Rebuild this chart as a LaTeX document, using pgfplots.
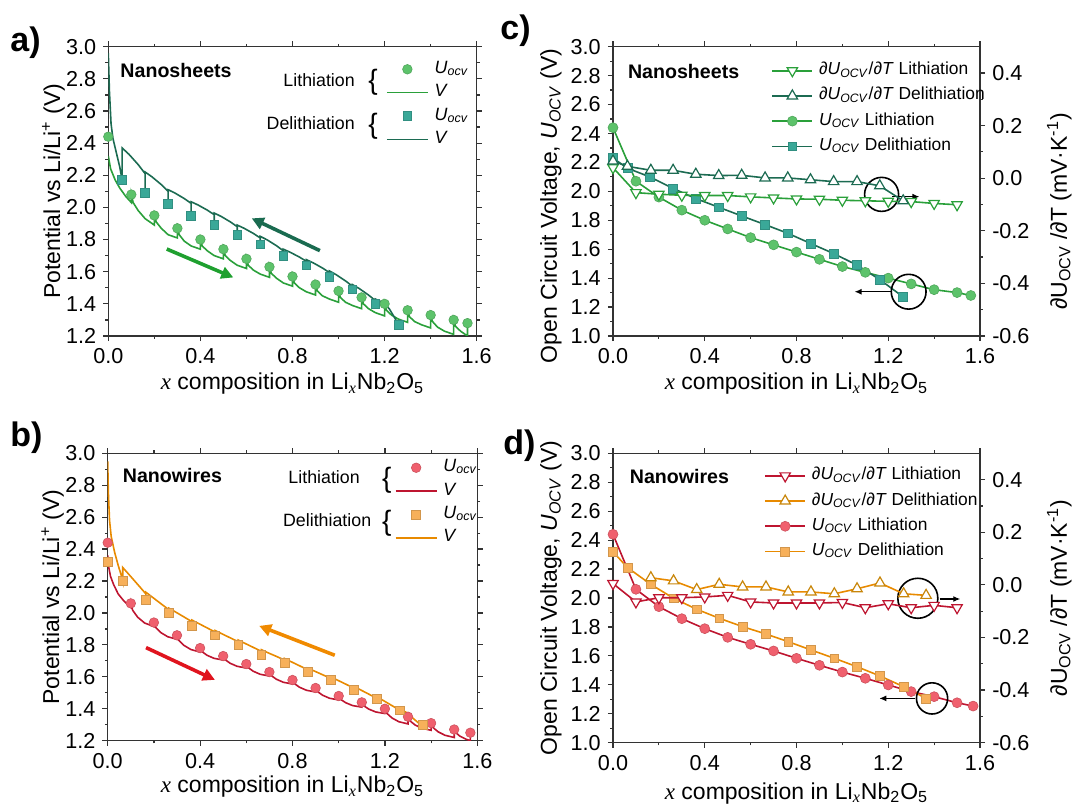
\documentclass[border=0pt]{standalone}
\usepackage{fontspec}
\setmainfont{Liberation Sans}
\newfontfamily\serif{Liberation Serif}
\usepackage{pgfplots}
\pgfplotsset{compat=1.18}
\usetikzlibrary{arrows.meta}

\definecolor{axcol}{HTML}{333333}
\definecolor{greenL}{HTML}{5DC36B}
\definecolor{greenLn}{HTML}{2AA03A}
\definecolor{tealSq}{HTML}{3AA898}
\definecolor{tealLn}{HTML}{1C6B52}
\definecolor{redC}{HTML}{F0606E}
\definecolor{redLn}{HTML}{BE1530}
\definecolor{orSq}{HTML}{F7B05A}
\definecolor{orLn}{HTML}{E88A00}
\definecolor{arrG}{HTML}{1FA02F}
\definecolor{arrT}{HTML}{1A6B50}
\definecolor{arrR}{HTML}{E0141E}
\definecolor{arrO}{HTML}{F08A00}
\definecolor{triD}{HTML}{C8860A}

\newcommand{\xlab}{{\serif\itshape x} composition in Li\textsubscript{{\serif\itshape x}}Nb\textsubscript{2}O\textsubscript{5}}
\newcommand{\Uocv}{\textit{U}\textsubscript{\textit{OCV}}}
\newcommand{\uocv}{\textit{U}\textsubscript{\textit{ocv}}}

\pgfplotsset{
  base/.style={
    scale only axis, anchor=south west, xmin=0, xmax=1.6,
    xtick={0,0.4,0.8,1.2,1.6}, minor x tick num=1,
    tick align=outside, major tick length=2.6pt, minor tick length=1.4pt,
    axis line style={axcol, line width=0.6pt},
    tick style={axcol, line width=0.6pt},
    tick label style={font=\fontsize{10.8}{12}\selectfont},
    /pgf/number format/assume math mode=true,
    xticklabel style={/pgf/number format/.cd, fixed, fixed zerofill, precision=1},
    yticklabel style={/pgf/number format/.cd, fixed, fixed zerofill, precision=1},
    label style={font=\fontsize{11.5}{13}\selectfont},
    xlabel={\xlab},
  },
  vpanel/.style={base, ymin=1.2, ymax=3.0,
    ytick={1.2,1.4,1.6,1.8,2.0,2.2,2.4,2.6,2.8,3.0}, minor y tick num=1,
    xtick pos=both, ytick pos=both,
    ylabel={Potential vs Li/Li\textsuperscript{+} (V)},
    ylabel style={at={(axis description cs:-0.149,0.5)}, anchor=center},
    legend style={draw=none, fill=none, inner sep=0pt, outer sep=0pt,
      font=\fontsize{8.9}{9}\selectfont, row sep=2.7pt, column sep=3pt,
      nodes={inner sep=0pt, text height=6.5pt, text depth=2.5pt}},
    legend cell align=left,
    legend image code/.code={\path[draw=none, fill=none] (0pt,-3pt) rectangle (20.5pt,3pt); \draw[##1] (0pt,0pt) -- (20.5pt,0pt);},
  },
  opanel/.style={base, ymin=1.0, ymax=3.0,
    ytick={1.0,1.2,1.4,1.6,1.8,2.0,2.2,2.4,2.6,2.8,3.0}, minor y tick num=1,
    xtick pos=both, ytick pos=left,
    ylabel={Open Circuit Voltage, \Uocv{} (V)},
  },
  rpanel/.style={scale only axis, anchor=south west, xmin=0, xmax=1.6,
    ymin=-0.6, ymax=0.5, axis x line=none, axis y line*=right,
    ytick={-0.6,-0.4,-0.2,0,0.2,0.4}, minor y tick num=1,
    tick align=outside, major tick length=2.6pt, minor tick length=1.4pt,
    axis line style={axcol, line width=0.6pt},
    tick style={axcol, line width=0.6pt},
    tick label style={font=\fontsize{10.8}{12}\selectfont},
    /pgf/number format/assume math mode=true,
    yticklabel style={/pgf/number format/.cd, fixed, fixed zerofill, precision=1},
    label style={font=\fontsize{11.5}{13}\selectfont},
    ylabel={∂U\textsubscript{OCV} /∂T (mV·K\textsuperscript{-1})},
    legend style={draw=none, fill=none, inner sep=0pt, outer sep=0pt,
      font=\fontsize{8.7}{9}\selectfont, row sep=3.6pt, column sep=3pt,
      nodes={inner sep=0pt, text height=6.5pt, text depth=2.5pt}},
    legend cell align=left,
    legend image code/.code={\draw[##1] (0pt,0pt) -- (20pt,0pt); \draw[##1] plot[only marks] coordinates {(10pt,0pt)};},
  },
  mkimg/.style={legend image code/.code={\path[draw=none, fill=none] (0pt,-3pt) rectangle (20.5pt,3pt); \draw[##1] plot[only marks] coordinates {(10.25pt,0pt)};}},
}
\tikzset{tag/.style={inner sep=0pt, font=\bfseries\fontsize{9.8}{10}\selectfont},
  side/.style={inner sep=0pt, font=\fontsize{8.9}{9}\selectfont},
  plab/.style={anchor=base west, inner sep=0pt, font=\bfseries\fontsize{17}{17}\selectfont}}

\begin{document}
\begin{tikzpicture}[x=1pt,y=1pt]

% ---------------- a) nanosheets, GITT
\begin{axis}[vpanel, at={(54.15pt,235pt)}, width=184.2pt, height=144.65pt,
  xlabel style={at={(axis description cs:0.5,-0.166)}, anchor=center},
  legend style={at={(rel axis cs:0.754,0.953)}, anchor=north west}]
\addplot[forget plot, only marks, mark=*, mark size=2.4pt, mark options={fill=greenL, draw=greenL!85!black, line width=0.3pt}]
  coordinates {(0,2.44)(0.1,2.08)(0.2,1.95)(0.3,1.87)(0.4,1.80)(0.5,1.74)(0.6,1.68)(0.7,1.63)(0.8,1.57)(0.9,1.52)(1.0,1.48)(1.1,1.44)(1.2,1.40)(1.3,1.36)(1.4,1.33)(1.5,1.30)(1.56,1.28)};
\addplot[forget plot, only marks, mark=square*, mark size=2.2pt, mark options={fill=tealSq, draw=tealSq!85!black, line width=0.3pt}]
  coordinates {(0.06,2.17)(0.16,2.09)(0.26,2.02)(0.36,1.95)(0.46,1.89)(0.56,1.83)(0.66,1.77)(0.76,1.70)(0.86,1.64)(0.96,1.57)(1.06,1.49)(1.16,1.40)(1.26,1.27)};
\addplot[forget plot, greenLn, line width=0.8pt, mark=none] coordinates {
  (0,2.32)(0.01,2.24)(0.03,2.17)(0.05,2.12)(0.075,2.07)(0.1,2.03)(0.1,2.08)
  (0.108,2.03)(0.13,1.98)(0.16,1.93)(0.2,1.89)(0.2,1.95)
  (0.208,1.91)(0.23,1.87)(0.26,1.83)(0.3,1.81)(0.3,1.87)
  (0.308,1.83)(0.33,1.79)(0.36,1.76)(0.4,1.74)(0.4,1.80)
  (0.408,1.76)(0.43,1.73)(0.46,1.70)(0.5,1.68)(0.5,1.74)
  (0.508,1.70)(0.53,1.67)(0.56,1.64)(0.6,1.62)(0.6,1.68)
  (0.608,1.64)(0.63,1.61)(0.66,1.585)(0.7,1.565)(0.7,1.63)
  (0.708,1.59)(0.73,1.56)(0.76,1.53)(0.8,1.51)(0.8,1.57)
  (0.808,1.53)(0.83,1.50)(0.86,1.475)(0.9,1.455)(0.9,1.52)
  (0.908,1.48)(0.93,1.45)(0.96,1.43)(1.0,1.41)(1.0,1.48)
  (1.008,1.44)(1.03,1.41)(1.06,1.39)(1.1,1.37)(1.1,1.44)
  (1.108,1.40)(1.13,1.37)(1.16,1.345)(1.2,1.325)(1.2,1.40)
  (1.208,1.36)(1.23,1.33)(1.26,1.305)(1.3,1.285)(1.3,1.36)
  (1.308,1.32)(1.33,1.29)(1.36,1.27)(1.4,1.25)(1.4,1.33)
  (1.408,1.29)(1.43,1.255)(1.46,1.23)(1.5,1.21)(1.5,1.30)
  (1.508,1.26)(1.53,1.23)(1.56,1.20)(1.56,1.28)};
\addplot[forget plot, tealLn, line width=0.8pt, mark=none] coordinates {
  (0,2.96)(0.005,2.72)(0.012,2.52)(0.02,2.43)(0.035,2.34)(0.05,2.25)(0.06,2.17)(0.06,2.37)
  (0.09,2.33)(0.13,2.266)(0.16,2.21)(0.16,2.09)(0.16,2.22)
  (0.19,2.19)(0.23,2.142)(0.26,2.10)(0.26,2.02)(0.26,2.11)
  (0.29,2.089)(0.33,2.055)(0.36,2.025)(0.36,1.95)(0.36,2.035)
  (0.39,2.015)(0.43,1.983)(0.46,1.955)(0.46,1.89)(0.46,1.965)
  (0.49,1.944)(0.53,1.91)(0.56,1.88)(0.56,1.83)(0.56,1.89)
  (0.59,1.87)(0.63,1.838)(0.66,1.81)(0.66,1.77)(0.66,1.82)
  (0.69,1.798)(0.73,1.762)(0.76,1.73)(0.76,1.70)(0.76,1.74)
  (0.79,1.721)(0.83,1.691)(0.86,1.665)(0.86,1.64)(0.86,1.675)
  (0.89,1.655)(0.93,1.623)(0.96,1.595)(0.96,1.57)(0.96,1.605)
  (0.99,1.581)(1.03,1.543)(1.06,1.51)(1.06,1.49)(1.06,1.52)
  (1.09,1.495)(1.13,1.455)(1.16,1.42)(1.16,1.40)(1.16,1.43)
  (1.19,1.41)(1.22,1.37)(1.245,1.31)(1.26,1.27)};
\addlegendimage{mkimg, mark=*, mark size=2.4pt, mark options={fill=greenL, draw=greenL!85!black, line width=0.3pt}}
\addlegendimage{greenLn, line width=0.8pt}
\addlegendimage{mkimg, mark=square*, mark size=2.2pt, mark options={fill=tealSq, draw=tealSq!85!black, line width=0.3pt}}
\addlegendimage{tealLn, line width=0.8pt}
\legend{\uocv, \textit{V}, \uocv, \textit{V}}
\draw[-{Triangle[length=6pt,width=6pt]}, line width=1.8pt, arrG] (axis cs:0.254,1.741) -- (axis cs:0.543,1.564);
\draw[-{Triangle[length=6pt,width=6pt]}, line width=1.8pt, arrT] (axis cs:0.919,1.731) -- (axis cs:0.623,1.932);
\node[tag, anchor=west] at (rel axis cs:0.032,0.916) {Nanosheets};
\node[side, anchor=east] at (rel axis cs:0.670,0.885) {Lithiation};
\node[side, anchor=east] at (rel axis cs:0.670,0.736) {Delithiation};
\node[font=\fontsize{14}{14}\selectfont] at (rel axis cs:0.7185,0.878) {\{};
\node[font=\fontsize{14}{14}\selectfont] at (rel axis cs:0.7185,0.726) {\{};
\end{axis}

% ---------------- b) nanowires, GITT
\begin{axis}[vpanel, at={(53.85pt,32.65pt)}, width=184.8pt, height=143.7pt,
  xlabel style={at={(axis description cs:0.5,-0.16)}, anchor=center},
  legend style={at={(rel axis cs:0.777,0.981)}, anchor=north west}]
\addplot[forget plot, only marks, mark=*, mark size=2.4pt, mark options={fill=redC, draw=redC!85!black, line width=0.3pt}]
  coordinates {(0,2.44)(0.1,2.06)(0.2,1.94)(0.3,1.86)(0.4,1.78)(0.5,1.73)(0.6,1.68)(0.7,1.63)(0.8,1.58)(0.9,1.53)(1.0,1.48)(1.1,1.44)(1.2,1.40)(1.3,1.35)(1.4,1.31)(1.5,1.27)(1.57,1.25)};
\addplot[forget plot, only marks, mark=square*, mark size=2.2pt, mark options={fill=orSq, draw=orSq!85!black, line width=0.3pt}]
  coordinates {(0,2.32)(0.065,2.20)(0.165,2.08)(0.265,2.00)(0.365,1.92)(0.465,1.86)(0.565,1.80)(0.665,1.74)(0.765,1.69)(0.865,1.63)(0.965,1.58)(1.065,1.52)(1.165,1.46)(1.265,1.39)(1.363,1.30)};
\addplot[forget plot, redLn, line width=0.8pt, mark=none] coordinates {
  (0,2.36)(0.004,2.29)(0.012,2.23)(0.025,2.18)(0.045,2.12)(0.07,2.075)(0.1,2.035)(0.1,2.06)
  (0.108,2.017)(0.13,1.973)(0.16,1.937)(0.2,1.915)(0.2,1.94)
  (0.208,1.909)(0.23,1.877)(0.26,1.851)(0.3,1.835)(0.3,1.86)
  (0.308,1.829)(0.33,1.797)(0.36,1.771)(0.4,1.755)(0.4,1.78)
  (0.408,1.758)(0.43,1.735)(0.46,1.716)(0.5,1.705)(0.5,1.73)
  (0.508,1.708)(0.53,1.685)(0.56,1.666)(0.6,1.655)(0.6,1.68)
  (0.608,1.658)(0.63,1.635)(0.66,1.616)(0.7,1.605)(0.7,1.63)
  (0.708,1.608)(0.73,1.585)(0.76,1.566)(0.8,1.555)(0.8,1.58)
  (0.808,1.558)(0.83,1.535)(0.86,1.516)(0.9,1.505)(0.9,1.53)
  (0.908,1.508)(0.93,1.485)(0.96,1.466)(1.0,1.455)(1.0,1.48)
  (1.008,1.459)(1.03,1.438)(1.06,1.42)(1.1,1.41)(1.1,1.44)
  (1.108,1.419)(1.13,1.398)(1.16,1.38)(1.2,1.37)(1.2,1.40)
  (1.208,1.372)(1.23,1.343)(1.26,1.319)(1.3,1.305)(1.3,1.35)
  (1.308,1.325)(1.33,1.299)(1.36,1.278)(1.4,1.265)(1.4,1.31)
  (1.408,1.283)(1.43,1.256)(1.46,1.234)(1.5,1.22)(1.5,1.27)
  (1.508,1.249)(1.525,1.228)(1.55,1.21)(1.57,1.20)(1.57,1.25)};
\addplot[forget plot, orLn, line width=0.8pt, mark=none] coordinates {
  (0,2.95)(0.003,2.75)(0.008,2.58)(0.015,2.48)(0.03,2.38)(0.045,2.30)(0.06,2.23)(0.065,2.20)(0.065,2.285)
  (0.095,2.236)(0.135,2.17)(0.165,2.12)(0.165,2.08)(0.165,2.13)
  (0.195,2.097)(0.235,2.053)(0.265,2.02)(0.265,2.00)(0.265,2.03)
  (0.295,2.005)(0.335,1.971)(0.365,1.945)(0.365,1.92)(0.365,1.955)
  (0.395,1.933)(0.435,1.903)(0.465,1.88)(0.465,1.86)(0.465,1.89)
  (0.495,1.869)(0.535,1.841)(0.565,1.82)(0.565,1.80)(0.565,1.83)
  (0.595,1.809)(0.635,1.781)(0.665,1.76)(0.665,1.74)(0.665,1.77)
  (0.695,1.75)(0.735,1.725)(0.765,1.705)(0.765,1.69)(0.765,1.715)
  (0.795,1.694)(0.835,1.666)(0.865,1.645)(0.865,1.63)(0.865,1.655)
  (0.895,1.636)(0.935,1.61)(0.965,1.59)(0.965,1.58)(0.965,1.60)
  (0.995,1.579)(1.035,1.551)(1.065,1.53)(1.065,1.52)(1.065,1.54)
  (1.095,1.518)(1.135,1.488)(1.165,1.465)(1.165,1.46)(1.165,1.475)
  (1.195,1.45)(1.235,1.416)(1.265,1.39)(1.265,1.40)
  (1.295,1.375)(1.33,1.33)(1.363,1.29)};
\addlegendimage{mkimg, mark=*, mark size=2.4pt, mark options={fill=redC, draw=redC!85!black, line width=0.3pt}}
\addlegendimage{redLn, line width=0.8pt}
\addlegendimage{mkimg, mark=square*, mark size=2.2pt, mark options={fill=orSq, draw=orSq!85!black, line width=0.3pt}}
\addlegendimage{orLn, line width=0.8pt}
\legend{\uocv, \textit{V}, \uocv, \textit{V}}
\draw[-{Triangle[length=6pt,width=6pt]}, line width=1.8pt, arrR] (axis cs:0.166,1.783) -- (axis cs:0.464,1.581);
\draw[-{Triangle[length=6pt,width=6pt]}, line width=1.8pt, arrO] (axis cs:0.983,1.735) -- (axis cs:0.656,1.919);
\node[tag, anchor=west] at (rel axis cs:0.04,0.921) {Nanowires};
\node[side, anchor=east] at (rel axis cs:0.683,0.917) {Lithiation};
\node[side, anchor=east] at (rel axis cs:0.714,0.766) {Delithiation};
\node[font=\fontsize{14}{14}\selectfont] at (rel axis cs:0.755,0.907) {\{};
\node[font=\fontsize{14}{14}\selectfont] at (rel axis cs:0.755,0.757) {\{};
\end{axis}

% ---------------- c) nanosheets, OCV and entropy
\begin{axis}[opanel, at={(306.5pt,235pt)}, width=183.5pt, height=144.65pt,
  xlabel style={at={(axis description cs:0.5,-0.166)}, anchor=center},
  ylabel style={at={(axis description cs:-0.169,0.45)}, anchor=center}]
\addplot[greenLn, line width=0.8pt, mark=*, mark size=2.5pt, mark options={fill=greenL, draw=greenL!85!black, line width=0.3pt}]
  coordinates {(0,2.44)(0.1,2.07)(0.2,1.96)(0.3,1.87)(0.4,1.80)(0.5,1.74)(0.6,1.68)(0.7,1.63)(0.8,1.58)(0.9,1.53)(1.0,1.48)(1.1,1.44)(1.2,1.40)(1.3,1.36)(1.4,1.32)(1.5,1.30)(1.56,1.28)};
\addplot[tealLn, line width=0.8pt, mark=square*, mark size=2.2pt, mark options={fill=tealSq, draw=tealSq!85!black, line width=0.3pt}]
  coordinates {(0,2.23)(0.063,2.16)(0.16,2.10)(0.262,2.02)(0.361,1.95)(0.461,1.89)(0.561,1.83)(0.663,1.77)(0.762,1.71)(0.861,1.64)(0.962,1.57)(1.064,1.49)(1.163,1.39)(1.265,1.27)};
\draw[line width=0.8pt] (axis cs:1.171,1.979) circle [radius=8.5pt];
\draw[-{Latex[length=3.5pt,width=3pt]}, line width=0.6pt] (axis cs:1.218,1.963) -- (axis cs:1.336,1.963);
\draw[line width=0.8pt] (axis cs:1.289,1.306) circle [radius=8.7pt];
\draw[-{Latex[length=3.5pt,width=3pt]}, line width=0.6pt] (axis cs:1.218,1.306) -- (axis cs:1.053,1.306);
\node[tag, anchor=west] at (rel axis cs:0.04,0.914) {Nanosheets};
\end{axis}
\begin{axis}[rpanel, at={(306.5pt,235pt)}, width=183.5pt, height=144.65pt,
  ylabel style={at={(axis description cs:1.216,0.43)}, anchor=center},
  legend style={at={(rel axis cs:0.432,0.948)}, anchor=north west}]
\addplot[greenLn, line width=0.8pt, mark=triangle*, mark size=3pt, mark options={fill=white, draw=greenLn, rotate=180, line width=0.6pt}]
  coordinates {(0,0.04)(0.1,-0.055)(0.2,-0.061)(0.3,-0.065)(0.4,-0.066)(0.5,-0.066)(0.6,-0.071)(0.7,-0.075)(0.8,-0.079)(0.9,-0.08)(1.0,-0.084)(1.1,-0.086)(1.2,-0.088)(1.3,-0.089)(1.4,-0.096)(1.5,-0.101)};
\addplot[tealLn, line width=0.8pt, mark=triangle*, mark size=3pt, mark options={fill=white, draw=tealLn, line width=0.6pt}]
  coordinates {(0,0.065)(0.063,0.045)(0.165,0.03)(0.262,0.03)(0.361,0.015)(0.461,0.01)(0.561,0.011)(0.663,0.001)(0.762,0.001)(0.861,-0.006)(0.962,-0.013)(1.064,-0.013)(1.163,-0.029)(1.265,-0.086)};
\addlegendimage{greenLn, line width=0.8pt, mark=*, mark size=2.5pt, mark options={fill=greenL, draw=greenL!85!black, line width=0.3pt}}
\addlegendimage{tealLn, line width=0.8pt, mark=square*, mark size=2.2pt, mark options={fill=tealSq, draw=tealSq!85!black, line width=0.3pt}}
\legend{∂\Uocv/∂\textit{T} Lithiation, ∂\Uocv/∂\textit{T} Delithiation, \Uocv{} Lithiation, \Uocv{} Delithiation}
\end{axis}

% ---------------- d) nanowires, OCV and entropy
\begin{axis}[opanel, at={(306.5pt,31.65pt)}, width=183.5pt, height=144.7pt,
  xlabel style={at={(axis description cs:0.5,-0.175)}, anchor=center},
  ylabel style={at={(axis description cs:-0.169,0.5)}, anchor=center}]
\addplot[redLn, line width=0.8pt, mark=*, mark size=2.5pt, mark options={fill=redC, draw=redC!85!black, line width=0.3pt}]
  coordinates {(0,2.44)(0.1,2.06)(0.2,1.94)(0.3,1.857)(0.4,1.788)(0.5,1.728)(0.6,1.68)(0.7,1.634)(0.8,1.583)(0.9,1.535)(1.0,1.488)(1.1,1.445)(1.2,1.399)(1.3,1.353)(1.4,1.318)(1.5,1.276)(1.57,1.253)};
\addplot[orLn, line width=0.8pt, mark=square*, mark size=2.2pt, mark options={fill=orSq, draw=orSq!85!black, line width=0.3pt}]
  coordinates {(0,2.32)(0.063,2.21)(0.165,2.094)(0.264,1.998)(0.365,1.922)(0.463,1.86)(0.565,1.802)(0.667,1.751)(0.764,1.698)(0.863,1.641)(0.965,1.583)(1.064,1.525)(1.164,1.461)(1.267,1.387)(1.365,1.306)};
\draw[line width=0.8pt] (axis cs:1.329,1.998) circle [radius=10pt];
\draw[-{Latex[length=3.5pt,width=3pt]}, line width=0.6pt] (axis cs:1.424,1.993) -- (axis cs:1.514,1.993);
\draw[line width=0.8pt] (axis cs:1.391,1.306) circle [radius=7.8pt];
\draw[-{Latex[length=3.5pt,width=3pt]}, line width=0.6pt] (axis cs:1.318,1.306) -- (axis cs:1.161,1.306);
\node[tag, anchor=west] at (rel axis cs:0.045,0.921) {Nanowires};
\end{axis}
\begin{axis}[rpanel, at={(306.5pt,31.65pt)}, width=183.5pt, height=144.7pt,
  ylabel style={at={(axis description cs:1.216,0.5)}, anchor=center},
  legend style={at={(rel axis cs:0.4125,0.953)}, anchor=north west}]
\addplot[redLn, line width=0.8pt, mark=triangle*, mark size=3pt, mark options={fill=white, draw=redLn, rotate=180, line width=0.6pt}]
  coordinates {(0,0.005)(0.1,-0.065)(0.2,-0.049)(0.3,-0.049)(0.4,-0.046)(0.5,-0.04)(0.6,-0.065)(0.7,-0.069)(0.8,-0.069)(0.9,-0.069)(1.0,-0.067)(1.1,-0.087)(1.2,-0.072)(1.3,-0.087)(1.4,-0.078)(1.5,-0.087)};
\addplot[orLn, line width=0.8pt, mark=triangle*, mark size=3pt, mark options={fill=white, draw=triD, line width=0.6pt}]
  coordinates {(0.165,0.027)(0.264,0.015)(0.365,-0.018)(0.463,0.002)(0.565,-0.008)(0.667,-0.008)(0.764,-0.027)(0.863,-0.027)(0.965,-0.034)(1.064,-0.015)(1.164,0.007)(1.267,-0.034)(1.365,-0.04)};
\addlegendimage{redLn, line width=0.8pt, mark=*, mark size=2.5pt, mark options={fill=redC, draw=redC!85!black, line width=0.3pt}}
\addlegendimage{orLn, line width=0.8pt, mark=square*, mark size=2.2pt, mark options={fill=orSq, draw=orSq!85!black, line width=0.3pt}}
\legend{∂\Uocv/∂\textit{T} Lithiation, ∂\Uocv/∂\textit{T} Delithiation, \Uocv{} Lithiation, \Uocv{} Delithiation}
\end{axis}

\node[plab] at (5,377) {a)};
\node[plab] at (250,383) {c)};
\node[plab] at (5,179.5) {b)};
\node[plab] at (251.5,175.5) {d)};
\pgfresetboundingbox
\path (0,0) rectangle (536,403);
\end{tikzpicture}
\end{document}
